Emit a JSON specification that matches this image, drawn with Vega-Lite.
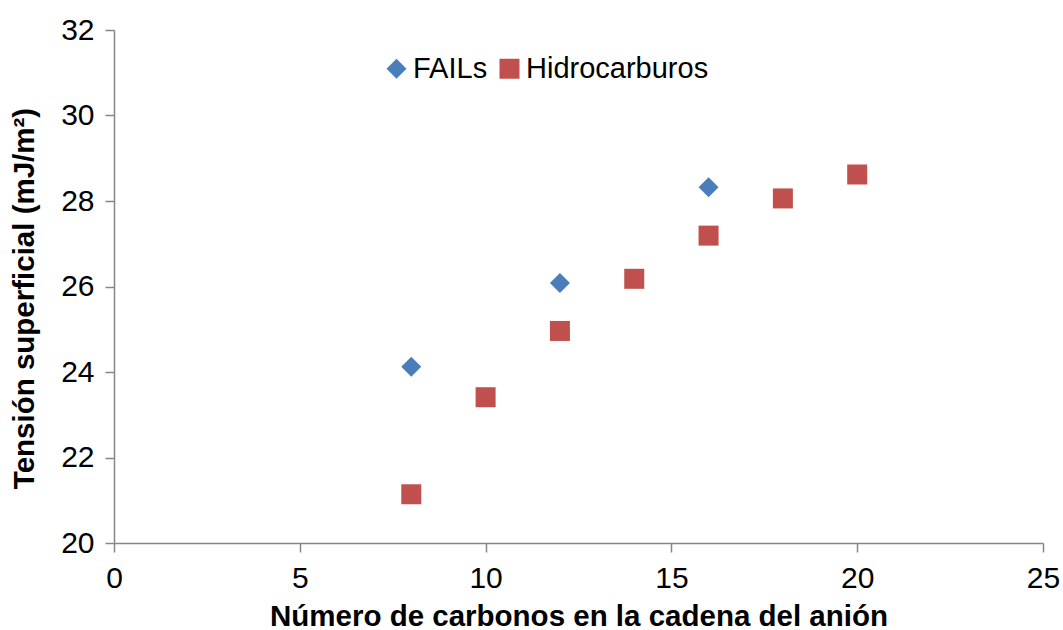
{
  "$schema": "https://vega.github.io/schema/vega-lite/v6.json",
  "width": 929,
  "height": 513,
  "autosize": "none",
  "padding": {"left": 114, "top": 30, "right": 20, "bottom": 87},
  "background": "white",
  "config": {
    "view": {"stroke": null},
    "font": "Liberation Sans",
    "axis": {
      "domainColor": "#868686",
      "domainWidth": 1.5,
      "tickColor": "#868686",
      "tickWidth": 1.5,
      "tickSize": 9,
      "labelColor": "#000000",
      "labelFont": "Liberation Sans",
      "labelFontSize": 30,
      "labelPadding": 11,
      "labelFlush": false,
      "titleColor": "#000000",
      "titleFont": "Liberation Sans",
      "titleFontSize": 29.5,
      "titleFontWeight": "bold",
      "grid": false
    },
    "legend": {
      "labelLimit": 400
    }
  },
  "data": {
    "values": [
      {"serie": "FAILs", "carbonos": 8, "tension": 24.12},
      {"serie": "FAILs", "carbonos": 12, "tension": 26.08},
      {"serie": "FAILs", "carbonos": 16, "tension": 28.32},
      {"serie": "Hidrocarburos", "carbonos": 8, "tension": 21.14},
      {"serie": "Hidrocarburos", "carbonos": 10, "tension": 23.41},
      {"serie": "Hidrocarburos", "carbonos": 12, "tension": 24.96},
      {"serie": "Hidrocarburos", "carbonos": 14, "tension": 26.18},
      {"serie": "Hidrocarburos", "carbonos": 16, "tension": 27.19},
      {"serie": "Hidrocarburos", "carbonos": 18, "tension": 28.06},
      {"serie": "Hidrocarburos", "carbonos": 20, "tension": 28.62}
    ]
  },
  "mark": {"type": "point", "filled": true, "opacity": 1, "size": 400},
  "encoding": {
    "x": {
      "field": "carbonos",
      "type": "quantitative",
      "scale": {"domain": [0, 25], "nice": false, "zero": false},
      "axis": {"values": [0, 5, 10, 15, 20, 25], "title": "Número de carbonos en la cadena del anión", "titlePadding": 9}
    },
    "y": {
      "field": "tension",
      "type": "quantitative",
      "scale": {"domain": [20, 32], "nice": false, "zero": false},
      "axis": {"values": [20, 22, 24, 26, 28, 30, 32], "title": "Tensión superficial (mJ/m²)", "titlePadding": 21, "titleY": 268}
    },
    "shape": {
      "field": "serie",
      "type": "nominal",
      "scale": {"domain": ["FAILs", "Hidrocarburos"], "range": ["diamond", "square"]},
      "legend": {
        "title": null,
        "orient": "none",
        "direction": "horizontal",
        "legendX": 268,
        "legendY": 24,
        "symbolSize": 400,
        "symbolStrokeWidth": 0,
        "labelFontSize": 29,
        "labelFont": "Liberation Sans",
        "labelColor": "#000000",
        "labelOffset": 2,
        "labelLimit": 400,
        "columnPadding": 7,
        "padding": 0
      }
    },
    "color": {
      "field": "serie",
      "type": "nominal",
      "scale": {"domain": ["FAILs", "Hidrocarburos"], "range": ["#4A7EBB", "#C0504D"]},
      "legend": {
        "title": null,
        "orient": "none",
        "direction": "horizontal",
        "legendX": 268,
        "legendY": 24,
        "symbolSize": 400,
        "symbolStrokeWidth": 0,
        "labelFontSize": 29,
        "labelFont": "Liberation Sans",
        "labelColor": "#000000",
        "labelOffset": 2,
        "labelLimit": 400,
        "columnPadding": 7,
        "padding": 0
      }
    }
  }
}
